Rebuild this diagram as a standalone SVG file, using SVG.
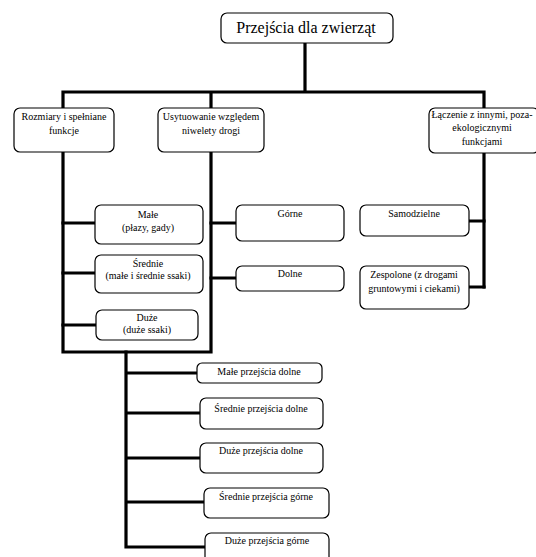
<svg xmlns="http://www.w3.org/2000/svg" width="536" height="557" viewBox="0 0 536 557">
<style>
.box{fill:#fff;stroke:#000;stroke-width:1.2}
.ln{fill:none;stroke:#000;stroke-width:3.2;stroke-linecap:square}
text{font-family:"Liberation Serif","Times New Roman",serif;font-size:10px;fill:#000;text-anchor:middle}
.title{font-size:16px}
</style>
<rect width="536" height="557" fill="#fff"/>
<g id="connectors">
<path class="ln" d="M305,43 V92 M63,92 H484 M63,92 V352 H211 V92 M484,92 V287"/>
<path class="ln" d="M63,223 H95 M63,273 H95 M63,325 H96"/>
<path class="ln" d="M211,223 H236 M211,278 H236"/>
<path class="ln" d="M484,221 H469 M484,287 H469"/>
<path class="ln" d="M126,352 V547 H205 M126,373 H197 M126,413 H200 M126,458 H200 M126,502 H204"/>
</g>
<g id="root"><rect class="box" x="221" y="13" width="172" height="30" rx="6"/><text class="title" x="306" y="33">Przejścia dla zwierząt</text></g>
<g id="rozmiary"><rect class="box" x="14" y="108" width="100" height="44" rx="6"/><text x="64" y="120">Rozmiary i spełniane</text><text x="64" y="134">funkcje</text></g>
<g id="usytuowanie"><rect class="box" x="158" y="108" width="106" height="44" rx="6"/><text x="211" y="120">Usytuowanie względem</text><text x="211" y="134">niwelety drogi</text></g>
<g id="laczenie"><rect class="box" x="429" y="108" width="110" height="45" rx="6"/><text x="482" y="118">Łączenie z innymi, poza-</text><text x="482" y="131">ekologicznymi</text><text x="482" y="145">funkcjami</text></g>
<g id="male"><rect class="box" x="95" y="205" width="108" height="39" rx="6"/><text x="148" y="218">Małe</text><text x="148" y="231">(płazy, gady)</text></g>
<g id="srednie"><rect class="box" x="95" y="255" width="108" height="38" rx="6"/><text x="148" y="267">Średnie</text><text x="148" y="279">(małe i średnie ssaki)</text></g>
<g id="duze"><rect class="box" x="96" y="310" width="102" height="30" rx="6"/><text x="147" y="321">Duże</text><text x="147" y="333">(duże ssaki)</text></g>
<g id="gorne"><rect class="box" x="236" y="205" width="108" height="36" rx="6"/><text x="290" y="217">Górne</text></g>
<g id="dolne"><rect class="box" x="236" y="266" width="108" height="25" rx="6"/><text x="290" y="277">Dolne</text></g>
<g id="samodzielne"><rect class="box" x="360" y="205" width="109" height="31" rx="6"/><text x="414" y="217">Samodzielne</text></g>
<g id="zespolone"><rect class="box" x="360" y="266" width="109" height="43" rx="6"/><text x="414" y="278">Zespolone (z drogami</text><text x="414" y="292">gruntowymi i ciekami)</text></g>
<g id="male-dolne"><rect class="box" x="197" y="363" width="125" height="20" rx="5"/><text x="259" y="375">Małe przejścia dolne</text></g>
<g id="srednie-dolne"><rect class="box" x="200" y="398" width="123" height="31" rx="6"/><text x="261" y="412">Średnie przejścia dolne</text></g>
<g id="duze-dolne"><rect class="box" x="200" y="443" width="123" height="30" rx="6"/><text x="261" y="454">Duże przejścia dolne</text></g>
<g id="srednie-gorne"><rect class="box" x="204" y="488" width="125" height="30" rx="6"/><text x="266" y="500">Średnie przejścia górne</text></g>
<g id="duze-gorne"><rect class="box" x="205" y="533" width="124" height="30" rx="6"/><text x="267" y="544">Duże przejścia górne</text></g>
</svg>
